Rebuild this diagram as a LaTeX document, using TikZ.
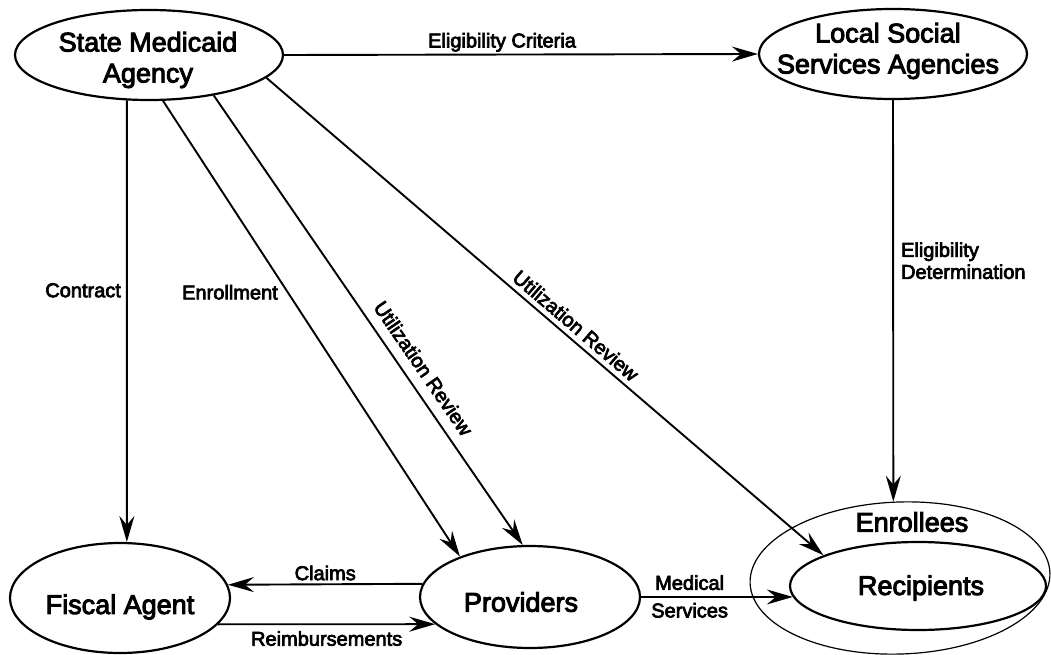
\documentclass[tikz,border=0pt]{standalone}
\usepackage{fontspec}
\setmainfont{Liberation Sans}
\newfontfamily\heavysans{Liberation Sans}[FakeBold=3.5]
\usetikzlibrary{arrows.meta,shapes.geometric}
\tikzset{
  agent/.style={draw, ellipse, line width=2.2pt, inner sep=0pt},
  group/.style={draw, ellipse, line width=1.2pt, inner sep=0pt},
  title/.style={font=\heavysans\fontsize{27}{31}\selectfont, align=center, inner sep=0pt},
  flow/.style={line width=1.9pt, -{Stealth[length=26pt,width=15pt,inset=9pt]}},
  lbl/.style={font=\heavysans\fontsize{20}{22}\selectfont, inner sep=1pt},
}
\begin{document}
\begin{tikzpicture}[x=1pt,y=-1pt]
\useasboundingbox (0,0) rectangle (1051,655);
\fill[white] (0,0) rectangle (1051,655);
\clip (0,0) rectangle (1051,655);

% agencies and parties
\node[agent, minimum width=268pt, minimum height=90pt] (state) at (149,55) {};
\node[title] (stateT) at (148,60) {State Medicaid\\Agency};
\node[agent, minimum width=268pt, minimum height=90pt] (local) at (893,54) {};
\node[title] (localT) at (888,51) {Local Social\\Services Agencies};
\node[agent, minimum width=220pt, minimum height=110pt] (fiscal) at (120,598) {};
\node[title] (fiscalT) at (120,607) {Fiscal Agent};
\node[agent, minimum width=220pt, minimum height=102pt] (prov) at (530,597) {};
\node[title] (provT) at (521,602) {Providers};
\node[group, minimum width=300pt, minimum height=152pt, rotate=2] (enroll) at (900,578) {};
\node[agent, minimum width=256pt, minimum height=88pt] (recip) at (918,586) {};
\node[title] (recipT) at (921,588) {Recipients};
\node[title] (enrollT) at (912,522) {Enrollees};

% flows
\draw[flow] (state.east) -- node[lbl, above=1pt, pos=.46] (lEC) {Eligibility Criteria} (local.west);
\draw[flow] (state.-116) -- node[lbl, left=4pt, pos=.43] (lCon) {Contract} (fiscal.83);
\draw[flow] (state.-73) -- node[lbl, left=8pt, pos=.42] (lEnr) {Enrollment} (prov.150);
\draw[flow] (state.-32) -- node[lbl, sloped, above=9pt, pos=.63] (lUR1) {Utilization Review} (prov.98);
\draw[flow] (state.-11) -- node[lbl, sloped, above=4pt, pos=.54] (lUR2) {Utilization Review} (recip.162);
\draw[flow] (local.south) -- node[lbl, right=6pt, pos=.40, align=left] (lED) {Eligibility\\Determination} (enroll.93);
\draw[flow] (prov.173) -- node[lbl, above=2pt] (lCl) {Claims} (fiscal.7);
\draw[flow] (fiscal.-15) -- node[lbl, below=5pt] (lRe) {Reimbursements} (prov.196);
\draw[flow] (prov.east) -- node[lbl, above=5pt, pos=.32] (lMed) {Medical}
  node[lbl, below=4pt, pos=.32] (lSer) {Services} (recip.185);
\end{tikzpicture}
\end{document}
